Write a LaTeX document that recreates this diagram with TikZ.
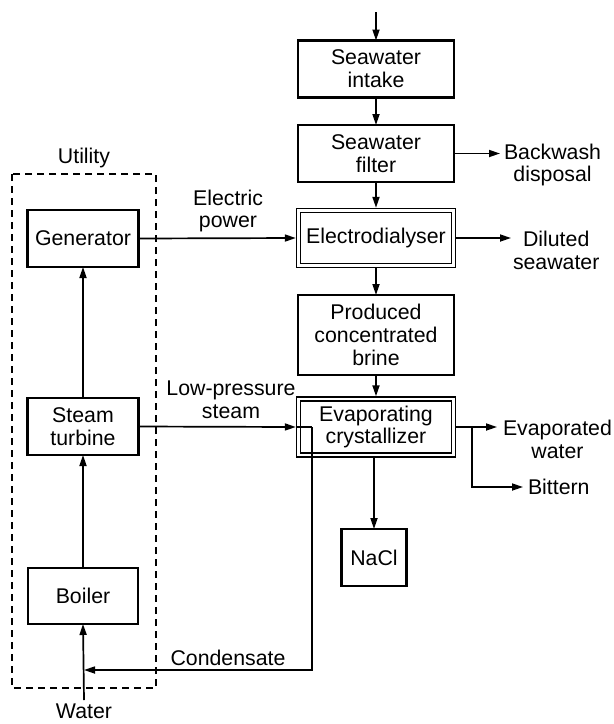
\documentclass[tikz,border=0pt]{standalone}
\usepackage{fontspec}
\setmainfont{Liberation Sans}
\usetikzlibrary{arrows.meta}
\begin{document}
\begin{tikzpicture}[x=1pt,y=-1pt,
  every node/.style={font=\fontsize{21.3}{22.8}\selectfont, inner sep=0pt, outer sep=0pt},
  box/.style={draw, line width=2.1pt, align=center, minimum width=#1},
  box/.default=156pt,
  dbox/.style={draw, line width=1.6pt, double, double distance=2.2pt, align=center, minimum width=155pt, outer sep=2.7pt},
  lbl/.style={align=center},
  flow/.style={line width=1.7pt, -{Triangle[length=11pt,width=7pt]}},
  pipe/.style={line width=1.7pt},
  util/.style={draw, line width=1.6pt, dash pattern=on 7pt off 5pt}]
\useasboundingbox (0,0) rectangle (614,724);
% process column
\node[box, minimum height=57pt] (intake) at (376,69) {Seawater\\intake};
\node[box, minimum height=57pt] (filter) at (376,153.5) {Seawater\\filter};
\node[dbox, minimum height=55pt] (ed) at (376,238) {Electrodialyser};
\node[box, minimum height=80pt] (brine) at (376,335) {Produced\\concentrated\\brine};
\node[dbox, minimum height=56pt] (cryst) at (376,427) {Evaporating\\crystallizer};
\node[box=65pt, minimum height=57pt] (nacl) at (374,557.5) {NaCl};
% utility
\node[box=111pt, minimum height=57pt] (gen) at (83,238.5) {Generator};
\node[box=111pt, minimum height=57pt] (turb) at (83,426.5) {Steam\\turbine};
\node[box=110pt, minimum height=56pt] (boil) at (83,596) {Boiler};
\coordinate (u1) at (12,174);
\coordinate (u2) at (156,688);
\draw[util] (u1) rectangle (u2);
\node[lbl] (utl) at (84,158) {Utility};
% labels
\node[lbl] (elp) at (228,211) {Electric\\power};
\node[lbl, anchor=west] (bwd) at (504,165) {Backwash\\disposal};
\node[lbl, anchor=west] (dil) at (513,250) {Diluted\\seawater};
\node[lbl] (lps) at (231,400) {Low-pressure\\steam};
\node[lbl, anchor=west] (evw) at (503,439) {Evaporated\\water};
\node[lbl, anchor=west] (bit) at (528,487) {Bittern};
\node[lbl] (cond) at (228,658) {Condensate};
\node[lbl] (wat) at (84,711) {Water};
% coordinates
\coordinate (top) at (376,12);
\coordinate (bw) at (500,153.5);
\coordinate (dl) at (511,238);
\coordinate (ew) at (497,427);
\coordinate (br) at (472,427);
\coordinate (bt) at (523,487);
\coordinate (c1) at (312,427);
\coordinate (c2) at (312,670);
\coordinate (c3) at (84,670);
\coordinate (win) at (84,700);
% connectors
\draw[flow] (top) -- (intake.north);
\draw[flow] (intake.south) -- (filter.north);
\draw[flow] (filter.south) -- (ed.north);
\draw[flow] (ed.south) -- (brine.north);
\draw[flow] (brine.south) -- (cryst.north);
\draw[flow] (cryst.south -| nacl.north) -- (nacl.north);
\draw[flow] (filter.east) -- (bw);
\draw[flow] (ed.east) -- (dl);
\draw[flow] (gen.east) -- (ed.west);
\draw[flow] (turb.east) -- (cryst.west);
\draw[flow] (cryst.east) -- (ew);
\draw[flow] (br) |- (bt);
\draw[pipe] (cryst.west) -- (c1);
\draw[flow] (c1) -- (c2) -- (c3);
\draw[flow] (win) -- (boil.south);
\draw[flow] (boil.north) -- (turb.south);
\draw[flow] (turb.north) -- (gen.south);
\end{tikzpicture}
\end{document}
